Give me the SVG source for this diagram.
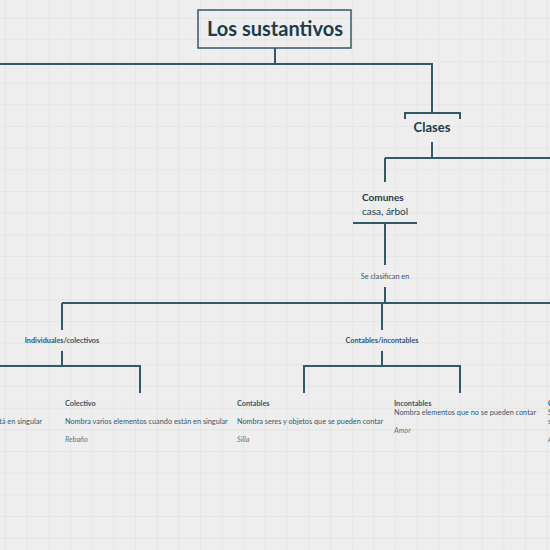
<svg xmlns="http://www.w3.org/2000/svg" width="550" height="550" viewBox="0 0 550 550">
<defs>
<pattern id="grid" patternUnits="userSpaceOnUse" x="5" y="17.6" width="21.67" height="21.67">
<path d="M0.5 0V21.67M0 0.5H21.67" stroke="#e5e5e5" stroke-width="1" fill="none"/>
</pattern>
<style>
.ln{stroke:#335866;stroke-width:2;fill:none}
.t{font-family:Lato,"Noto Sans",sans-serif;fill:#1c3c4c}
.h{font-weight:bold}
.s{font-size:7.3px;fill:#35566a}
.it{font-style:italic;fill:#5f7782}
</style>
</defs>
<rect width="550" height="550" fill="#eeeeee"/>
<rect width="550" height="550" fill="url(#grid)"/>
<g id="connectors">
<path class="ln" d="M275 48V64M0 64H432V113"/>
<path class="ln" d="M405 119V113H460V119"/>
<path class="ln" d="M432 142V158M385 158H550M385 158V182"/>
<path class="ln" d="M353 223H417M385 223V265"/>
<path class="ln" d="M385 287V303M62 303H550M62 303V330M382 303V330"/>
<path class="ln" d="M62 351V366M0 366H140V393"/>
<path class="ln" d="M382 351V366M304 393V366H460V393"/>
</g>
<g id="root">
<rect x="198" y="10" width="153" height="38" fill="none" stroke="#335866" stroke-width="1.5"/>
<text class="t h" x="275" y="36" font-size="20" text-anchor="middle">Los sustantivos</text>
</g>
<g id="clases">
<text class="t h" x="432" y="132" font-size="13" text-anchor="middle">Clases</text>
</g>
<g id="comunes">
<text class="t h" x="362" y="201" font-size="10">Comunes</text>
<text class="t" x="362" y="215" font-size="10">casa, árbol</text>
</g>
<g id="seclasifican">
<text class="t s" x="385" y="279" text-anchor="middle">Se clasifican en</text>
</g>
<g id="indcol">
<text class="t h s" x="62" y="343" text-anchor="middle">Individuales/colectivos</text>
</g>
<g id="continc">
<text class="t h s" x="382" y="343" text-anchor="middle">Contables/incontables</text>
</g>
<g id="individual">
<text class="t s" x="42" y="424" text-anchor="end">está en singular</text>
</g>
<g id="colectivo">
<text class="t h s" x="65" y="406">Colectivo</text>
<text class="t s" x="65" y="424">Nombra varios elementos cuando están en singular</text>
<text class="t s it" x="65" y="442">Rebaño</text>
</g>
<g id="contables">
<text class="t h s" x="237" y="406">Contables</text>
<text class="t s" x="237" y="424">Nombra seres y objetos que se pueden contar</text>
<text class="t s it" x="237" y="442">Silla</text>
</g>
<g id="incontables">
<text class="t h s" x="394" y="406">Incontables</text>
<text class="t s" x="394" y="415">Nombra elementos que no se pueden contar</text>
<text class="t s it" x="394" y="433">Amor</text>
</g>
<g id="right">
<text class="t h s" x="548" y="406">C</text>
<text class="t s" x="548" y="415">S</text>
<text class="t s" x="548" y="424">s</text>
<text class="t s it" x="548" y="442">A</text>
</g>
</svg>
